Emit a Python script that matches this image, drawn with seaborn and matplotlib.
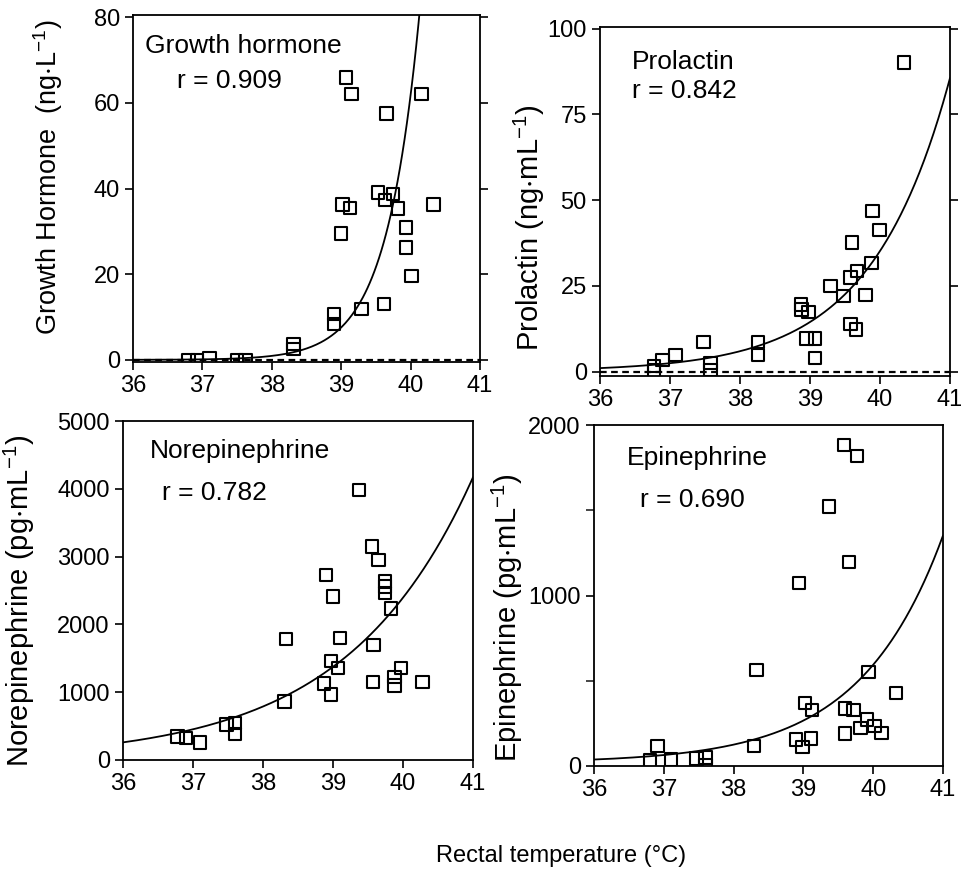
import numpy as np
import pandas as pd
import matplotlib
matplotlib.use('Agg')
import matplotlib.pyplot as plt
import seaborn as sns

# Growth hormone (ng/L) vs rectal temperature
gh_temp = [39.07, 39.15, 40.16, 39.65, 39.53, 39.63, 39.75, 39.02, 39.13, 39.82,
           40.33, 39.00, 39.93, 39.93, 40.01, 38.90, 38.90, 39.29, 39.62, 38.31,
           38.31, 36.80, 36.92, 37.10, 37.50, 37.62]
gh_val = [65.9, 62.0, 62.0, 57.5, 39.1, 37.3, 38.7, 36.3, 35.5, 35.3,
          36.3, 29.5, 30.9, 26.2, 19.6, 10.7, 8.4, 11.9, 13.1, 3.7,
          2.6, 0.0, 0.0, 0.3, 0.0, 0.0]

# Prolactin (ng/mL)
prl_temp = [40.34, 39.89, 39.99, 39.60, 39.88, 39.67, 39.58, 39.29, 39.48, 39.79,
            38.87, 38.88, 38.98, 39.58, 39.66, 38.95, 39.07, 39.07, 38.26, 38.26,
            37.48, 37.58, 37.58, 37.08, 36.89, 36.77, 36.77]
prl_val = [90.1, 46.8, 41.3, 37.7, 31.6, 29.3, 27.4, 25.0, 22.1, 22.3,
           19.5, 18.1, 17.3, 13.8, 12.3, 9.6, 9.6, 4.0, 8.7, 4.8,
           8.7, 2.5, 0.5, 4.8, 3.4, 1.6, 0.3]

# Norepinephrine (pg/mL)
ne_temp = [39.37, 39.56, 39.65, 39.74, 39.74, 39.74, 39.83, 38.90, 39.00, 38.33,
           39.10, 39.58, 38.97, 39.07, 39.97, 39.88, 39.88, 39.57, 40.28, 38.87,
           38.97, 38.31, 37.48, 37.60, 37.60, 36.78, 36.90, 37.10]
ne_val = [3979, 3150, 2953, 2631, 2557, 2459, 2237, 2730, 2409, 1782,
          1802, 1693, 1456, 1357, 1357, 1224, 1101, 1150, 1150, 1126,
          967, 864, 523, 548, 385, 345, 326, 261]

# Epinephrine (pg/mL)
epi_temp = [39.58, 39.77, 39.37, 39.65, 38.94, 38.33, 39.93, 40.33, 39.02, 39.12,
            39.60, 39.72, 39.91, 39.82, 40.02, 40.12, 39.60, 38.89, 39.11, 38.99,
            38.29, 36.91, 36.80, 37.10, 37.47, 37.60, 37.60]
epi_val = [1883, 1819, 1521, 1198, 1075, 562, 552, 429, 370, 327,
           337, 327, 272, 223, 233, 194, 190, 155, 161, 112,
           116, 116, 33, 39, 43, 49, 4]

# exponential fits y = c + a*exp(b*(T-36))
gh_fit = (0.0139, 2.1, 0.0)
prl_fit = (1.0, 0.89, 0.0)
ne_fit = (260.0, 0.555, 0.0)
epi_fit = (20.0, 0.84, 18.0)

sns.set_style('ticks')
plt.rcParams['font.family'] = ['Liberation Sans', 'DejaVu Sans']
plt.rcParams['mathtext.default'] = 'regular'
plt.rcParams['text.color'] = 'black'
plt.rcParams['axes.labelcolor'] = 'black'

fig = plt.figure(figsize=(9.62, 8.73), dpi=100)

W, H = 962, 873
def add_ax(l, t, r, b):
    return fig.add_axes([l / W, 1 - b / H, (r - l) / W, (b - t) / H])

panels = [
    dict(box=(133, 15, 480, 362), x=gh_temp, y=gh_val, fit=gh_fit, ylim=(-0.5, 80.5),
         yticks=[0, 20, 40, 60, 80], minor=None,
         ylabel=r'Growth Hormone  (ng$\cdot$L$^{-1}$)', lsize=19.5, lab=(-0.196, 0.533),
         name='Growth hormone', r='r = 0.909', tpos=(0.035, 0.911), rpos=(0.127, 0.81),
         zero=True),
    dict(box=(600, 27, 950, 376), x=prl_temp, y=prl_val, fit=prl_fit, ylim=(-1.3, 100.5),
         yticks=[0, 25, 50, 75, 100], minor=None,
         ylabel=r'Prolactin (ng$\cdot$mL$^{-1}$)', lsize=21, lab=(-0.152, 0.424),
         name='Prolactin', r='r = 0.842', tpos=(0.091, 0.90), rpos=(0.091, 0.817),
         zero=True),
    dict(box=(123, 421, 473, 760), x=ne_temp, y=ne_val, fit=ne_fit, ylim=(0, 5000),
         yticks=[0, 1000, 2000, 3000, 4000, 5000], minor=None,
         ylabel=r'Norepinephrine (pg$\cdot$mL$^{-1}$)', lsize=21, lab=(-0.246, 0.47),
         name='Norepinephrine', r='r = 0.782', tpos=(0.077, 0.911), rpos=(0.111, 0.788),
         zero=False),
    dict(box=(594, 425, 943, 766), x=epi_temp, y=epi_val, fit=epi_fit, ylim=(0, 2000),
         yticks=[0, 1000, 2000], minor=[500, 1500],
         ylabel=r'Epinephrine (pg$\cdot$mL$^{-1}$)', lsize=21, lab=(-0.198, 0.434),
         name='Epinephrine', r='r = 0.690', tpos=(0.095, 0.903), rpos=(0.132, 0.78),
         zero=False),
]

xfit = np.linspace(36, 41, 300)

for p in panels:
    ax = add_ax(*p['box'])
    df = pd.DataFrame({'T': p['x'], 'v': p['y']})
    a, b, c = p['fit']
    fit_df = pd.DataFrame({'T': xfit, 'v': c + a * np.exp(b * (xfit - 36))})
    sns.lineplot(data=fit_df, x='T', y='v', ax=ax, color='black', lw=1.3)
    sns.scatterplot(data=df, x='T', y='v', ax=ax, marker='s', s=80,
                    facecolor='none', edgecolor='black', linewidth=1.5, zorder=3)
    if p['zero']:
        ax.axhline(0, ls='--', color='black', lw=1.6, dashes=(3, 2))
    ax.set_xlim(36, 41)
    ax.set_ylim(*p['ylim'])
    ax.set_xticks([36, 37, 38, 39, 40, 41])
    ax.set_yticks(p['yticks'])
    if p['minor']:
        ax.set_yticks(p['minor'], minor=True)
        ax.tick_params(axis='y', which='minor', length=6, width=1.2, direction='out')
    ax.tick_params(labelsize=17, length=6, width=1.2, direction='out', colors='black')
    if p['zero']:
        ax.tick_params(axis='y', right=True)
    for s in ax.spines.values():
        s.set_linewidth(1.3)
        s.set_color('black')
    ax.set_xlabel('')
    ax.set_ylabel(p['ylabel'], fontsize=p['lsize'])
    ax.yaxis.set_label_coords(*p['lab'])
    ax.text(*p['tpos'], p['name'], transform=ax.transAxes, fontsize=19, va='center', ha='left')
    ax.text(*p['rpos'], p['r'], transform=ax.transAxes, fontsize=19, va='center', ha='left')

fig.text(0.583, 0.0195, 'Rectal temperature (°C)', fontsize=17, ha='center', va='center')

fig.savefig('out.png', dpi=100)
